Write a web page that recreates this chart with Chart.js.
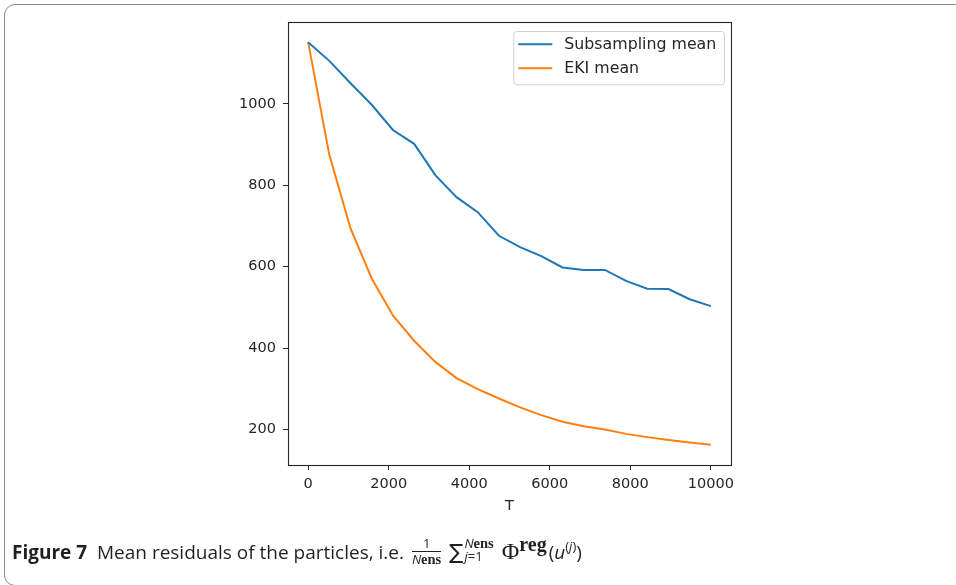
<!DOCTYPE html>
<html>
<head>
<meta charset="utf-8">
<script src="https://cdn.jsdelivr.net/npm/chart.js@4.4.0/dist/chart.umd.min.js"></script>
<style>
  html, body { margin:0; padding:0; background:#fff; width:956px; height:585px; overflow:hidden; }
  #frame { position:absolute; left:4px; top:4px; width:1000px; height:582px; border:1px solid #8c8c8c; border-radius:11px; box-sizing:border-box; }
  #c { position:absolute; left:0; top:0; }
  #cap { position:absolute; left:12px; top:537px; font-family:"Open Sans", "Noto Sans", sans-serif; font-size:19px; line-height:22px; color:#231f20; white-space:nowrap; }
  #cap b.fig { font-weight:700; }
  .frac { display:inline-block; vertical-align:-5px; text-align:center; font-size:13px; line-height:13px; margin:0 8px 0 3px; }
  .frac .num { display:block; border-bottom:1px solid #231f20; padding:0 1px 1px; }
  .frac .den { display:block; padding-top:1px; }
  .s { font-family:"Liberation Serif", serif; font-weight:700; }
  .frac .s, .lims .s { font-size:14.5px; }
  .sum { font-family:"DejaVu Sans", sans-serif; font-size:21px; }
  .lims { display:inline-block; vertical-align:-2px; font-size:13px; line-height:13px; margin-left:1px; }
  .lims > span { display:block; }
  .phi { font-family:"Liberation Serif", serif; font-size:24px; margin-left:8px; }
  .reg { font-family:"Liberation Serif", serif; font-weight:700; font-size:20px; vertical-align:8px; line-height:0; margin-right:2px; }
  .sm { font-size:13px; vertical-align:8px; line-height:0; }
</style>
</head>
<body>
<div id="frame"></div>
<canvas id="c" width="956" height="585"></canvas>
<div id="cap"><b class="fig">Figure 7</b>&nbsp; Mean residuals of the particles, i.e. <span class="frac"><span class="num">1</span><span class="den"><i>N</i><span class="s">ens</span></span></span><span class="sum">∑</span><span class="lims"><span><i>N</i><span class="s">ens</span></span><span><i>j</i>=1</span></span><span class="phi">Φ</span><span class="reg">reg</span>(<i>u</i><span class="sm">(<i>j</i>)</span>)</div>
<script>
// ---- data ----
const T = [0, 526, 1053, 1579, 2105, 2632, 3158, 3684, 4211, 4737, 5263, 5789, 6316, 6842, 7368, 7895, 8421, 8947, 9474, 10000];
const subsamplingMean = [1152, 1106, 1051, 998, 936, 902, 825, 771, 734, 676, 648, 626, 598, 592, 592, 565, 546, 545, 520, 503];
const ekiMean = [1152, 875, 694, 571, 480, 418, 366, 326, 299, 276, 254, 235, 219, 208, 200, 189, 181, 174, 168, 162];
const seriesLabels = ['Subsampling mean', 'EKI mean'];
const xTicks = [0, 2000, 4000, 6000, 8000, 10000];
const yTicks = [200, 400, 600, 800, 1000];
const xLabel = 'T';

const textColor = '#262626';
const tickFont = { family: 'DejaVu Sans', size: 14.5 };

function pts(xs, ys) { return xs.map((x, i) => ({ x: x, y: ys[i] })); }

// matplotlib-like 5% margins
const allY = subsamplingMean.concat(ekiMean);
const yMinD = Math.min(...allY), yMaxD = Math.max(...allY);
const yPad = (yMaxD - yMinD) * 0.05;
const xMinD = Math.min(...T), xMaxD = Math.max(...T);
const xPad = (xMaxD - xMinD) * 0.05;

const framePlugin = {
  id: 'frameBox',
  afterDatasetsDraw(chart) {
    const { ctx, chartArea: a } = chart;
    ctx.save();
    ctx.strokeStyle = textColor;
    ctx.lineWidth = 1.1;
    ctx.strokeRect(Math.round(a.left) + 0.5, Math.round(a.top) + 0.5,
                   Math.round(a.right) - Math.round(a.left), Math.round(a.bottom) - Math.round(a.top));
    ctx.restore();
  }
};

const legendPlugin = {
  id: 'mplLegend',
  afterDraw(chart) {
    const { ctx, chartArea: a } = chart;
    const ds = chart.data.datasets;
    ctx.save();
    ctx.font = '15.8px "DejaVu Sans"';
    const tw = Math.max(...ds.map(d => ctx.measureText(d.label).width));
    const w = tw + 58.7, h = 53.3;
    const x0 = a.right - 7 - w, y0 = a.top + 9;
    ctx.beginPath();
    if (ctx.roundRect) ctx.roundRect(x0 + 0.5, y0 + 0.5, w, h, 3); else ctx.rect(x0 + 0.5, y0 + 0.5, w, h);
    ctx.fillStyle = 'rgba(255,255,255,0.8)';
    ctx.fill();
    ctx.strokeStyle = '#d0d0d0';
    ctx.lineWidth = 1;
    ctx.stroke();
    ds.forEach((d, i) => {
      const y = y0 + 13.3 + i * 24;
      ctx.beginPath();
      ctx.moveTo(x0 + 5, y);
      ctx.lineTo(x0 + 39, y);
      ctx.strokeStyle = d.borderColor;
      ctx.lineWidth = 2;
      ctx.stroke();
      ctx.fillStyle = textColor;
      ctx.textBaseline = 'middle';
      ctx.textAlign = 'left';
      ctx.fillText(d.label, x0 + 51, y + 1);
    });
    ctx.restore();
  }
};

new Chart(document.getElementById('c'), {
  type: 'line',
  data: {
    datasets: [
      { label: seriesLabels[0], data: pts(T, subsamplingMean), borderColor: '#1f77b4', backgroundColor: '#1f77b4', borderWidth: 2, pointRadius: 0, tension: 0, fill: false },
      { label: seriesLabels[1], data: pts(T, ekiMean), borderColor: '#ff7f0e', backgroundColor: '#ff7f0e', borderWidth: 2, pointRadius: 0, tension: 0, fill: false }
    ]
  },
  options: {
    responsive: false,
    animation: false,
    devicePixelRatio: 1,
    layout: { padding: { left: 228, right: 225, top: 22, bottom: 70 } },
    plugins: { legend: { display: false }, tooltip: { enabled: false } },
    scales: {
      x: {
        type: 'linear',
        min: xMinD - xPad, max: xMaxD + xPad,
        afterBuildTicks: s => { s.ticks = xTicks.map(v => ({ value: v })); },
        afterFit: s => { s.height = 50; },
        ticks: { font: tickFont, color: textColor, padding: 6, maxRotation: 0, autoSkip: false, callback: v => String(v) },
        grid: { display: true, drawOnChartArea: false, drawTicks: true, tickLength: 5, color: textColor, lineWidth: 1 },
        border: { display: false },
        title: { display: true, text: xLabel, font: tickFont, color: textColor, padding: { top: 0, bottom: 0 } }
      },
      y: {
        type: 'linear',
        min: yMinD - yPad, max: yMaxD + yPad,
        afterBuildTicks: s => { s.ticks = yTicks.map(v => ({ value: v })); },
        afterFit: s => { s.width = 60; },
        ticks: { font: tickFont, color: textColor, padding: 7, autoSkip: false, callback: v => String(v) },
        grid: { display: true, drawOnChartArea: false, drawTicks: true, tickLength: 5, color: textColor, lineWidth: 1 },
        border: { display: false }
      }
    }
  },
  plugins: [framePlugin, legendPlugin]
});
</script>
</body>
</html>
